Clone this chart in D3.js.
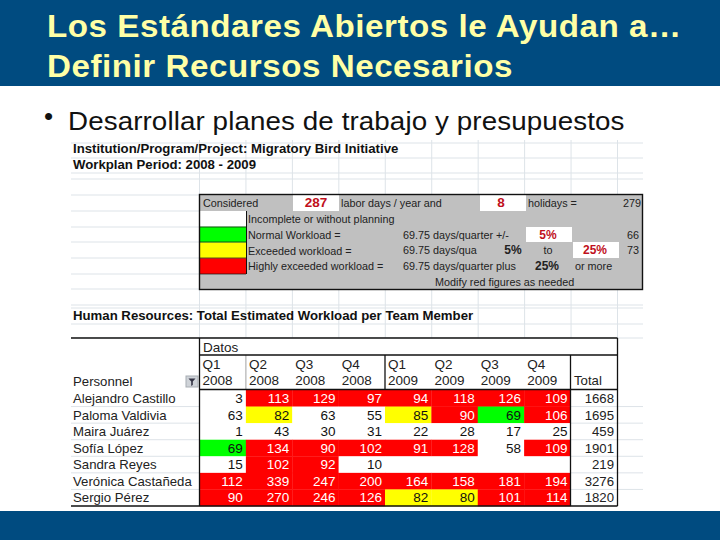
<!DOCTYPE html>
<html><head><meta charset="utf-8">
<script src="https://cdn.jsdelivr.net/npm/d3@7"></script>
<style>html,body{margin:0;padding:0;background:#fff}svg{display:block}text{font-family:"Liberation Sans",Arial,sans-serif}</style>
</head><body><div id="c"></div>
<script>
const titleLines=["Los Estándares Abiertos le Ayudan a…","Definir Recursos Necesarios"];
const bullet="Desarrollar planes de trabajo y presupuestos";
const people=["Alejandro Castillo","Paloma Valdivia","Maira Juárez","Sofía López","Sandra Reyes","Verónica Castañeda","Sergio Pérez"];
const quarters=["Q1","Q2","Q3","Q4","Q1","Q2","Q3","Q4"];
const years=["2008","2008","2008","2008","2009","2009","2009","2009"];
const alejandro=[3,113,129,97,94,118,126,109];
const paloma=[63,82,63,55,85,90,69,106];
const maira=[1,43,30,31,22,28,17,25];
const sofia=[69,134,90,102,91,128,58,109];
const sandra=[15,102,92,10,null,null,null,null];
const veronica=[112,339,247,200,164,158,181,194];
const sergio=[90,270,246,126,82,80,101,114];
const totals=[1668,1695,459,1901,219,3276,1820];
const thresholds=[66,73,87];
const levelColors=["#ffffff","#00ff00","#ffff00","#ff0000"];
const legendLabels=["Incomplete or without planning","Normal Workload =","Exceeded workload =","Highly exceeded workload ="];
const matrix=[alejandro,paloma,maira,sofia,sandra,veronica,sergio];

const W=720,H=540;
const svg=d3.select("#c").append("svg").attr("width",W).attr("height",H);
const navy="#004b80",cream="#ffffa6";
svg.append("rect").attr("width",W).attr("height",86).attr("fill",navy);
svg.append("rect").attr("y",511).attr("width",W).attr("height",29).attr("fill",navy);
svg.selectAll("text.t").data(titleLines).join("text").attr("class","t")
  .attr("transform",(d,i)=>`translate(47,${37+i*40}) scale(1.07,1)`).attr("fill",cream)
  .attr("font-size",31).attr("font-weight","bold").attr("letter-spacing",0.5).text(d=>d);
svg.append("text").attr("x",44).attr("y",125).attr("font-size",26).attr("fill","#111").text("•");
svg.append("text").attr("transform","translate(68,130) scale(1.067,1)").attr("font-size",26).attr("fill","#111").attr("letter-spacing",0.1).text(bullet);

// sheet grid
const g=svg.append("g");
const colX=d3.scaleBand().domain(d3.range(9)).range([199.5,617.5]);
const vx=d3.range(10).map(i=>i<9?colX(i):617.5);
const hy=[143,158,173,179,195,211,227,242,258,274,289,305,308,324,338];
g.selectAll("line.v").data(vx).join("line").attr("class","v")
  .attr("x1",d=>d).attr("x2",d=>d).attr("y1",140).attr("y2",338).attr("stroke","#dde3e8");
g.selectAll("line.h").data(hy).join("line").attr("class","h")
  .attr("x1",71).attr("x2",643).attr("y1",d=>d).attr("y2",d=>d).attr("stroke","#dde3e8");
const head=(s,y,size=13.2)=>g.append("text").attr("x",73).attr("y",y).attr("font-size",size).attr("font-weight","bold").attr("fill","#111").text(s);
head("Institution/Program/Project: Migratory Bird Initiative",153);
head("Workplan Period: 2008 - 2009",169);
head("Human Resources: Total Estimated Workload per Team Member",320);

// settings box
const box=g.append("g");
box.append("rect").attr("x",199.5).attr("y",194.5).attr("width",443).attr("height",95).attr("fill","#c0c0c0");
const legY=d3.scaleBand().domain(d3.range(4)).range([211,274]);
box.selectAll("rect.sw").data(levelColors).join("rect").attr("class","sw")
  .attr("x",200).attr("width",46.5).attr("y",(d,i)=>legY(i)).attr("height",legY.bandwidth()).attr("fill",d=>d);
box.append("line").attr("x1",246.5).attr("x2",246.5).attr("y1",211).attr("y2",274).attr("stroke","#111");
[[200,246,227],[200,246,242],[200,246,258],[200,246,274]].forEach(a=>box.append("line").attr("x1",a[0]).attr("x2",a[1]).attr("y1",a[2]).attr("y2",a[2]).attr("stroke","#111").attr("stroke-width",.7));
box.selectAll("text.lg").data(legendLabels).join("text").attr("class","lg")
  .attr("x",248).attr("y",(d,i)=>legY(i)+12).attr("font-size",10.8).attr("fill","#222").text(d=>d);
const inputs=[[293,339,195,211],[480,526,195,211],[526,572,227,242],[573,619,242,258]];
box.selectAll("rect.in").data(inputs).join("rect").attr("class","in")
  .attr("x",d=>d[0]).attr("width",d=>d[1]-d[0]).attr("y",d=>d[2]).attr("height",d=>d[3]-d[2]).attr("fill","#fff");
const txt=(x,y,s,o={})=>box.append("text").attr("x",x).attr("y",y).attr("font-size",o.size||10.8).attr("font-weight",o.bold?"bold":null).attr("fill",o.fill||"#222").attr("text-anchor",o.anchor||"start").text(s);
txt(203,207,"Considered");
txt(316,207,"287",{bold:1,fill:"#c0101c",anchor:"middle",size:13.5});
txt(341,207,"labor days / year and");
txt(501,207,"8",{bold:1,fill:"#c0101c",anchor:"middle",size:13.5});
txt(528,207,"holidays =");
txt(641,207,"279",{anchor:"end"});
txt(403,239,"69.75 days/quarter +/-");
txt(548,239,"5%",{bold:1,fill:"#c0101c",anchor:"middle",size:12});
txt(639,239,"66",{anchor:"end"});
txt(403,254,"69.75 days/qua");
txt(513,254,"5%",{bold:1,anchor:"middle",size:12});
txt(548,254,"to",{anchor:"middle"});
txt(595,254,"25%",{bold:1,fill:"#c0101c",anchor:"middle",size:12});
txt(639,254,"73",{anchor:"end"});
txt(403,270,"69.75 days/quarter plus");
txt(547,270,"25%",{bold:1,anchor:"middle",size:12});
txt(575,270,"or more");
txt(435,286,"Modify red figures as needed");
box.append("rect").attr("x",199.5).attr("y",194.5).attr("width",443).attr("height",95).attr("fill","none").attr("stroke","#111").attr("stroke-width",1.4);

// workload table
const tb=svg.append("g");
const x=d3.scaleBand().domain(d3.range(8)).range([199.5,570.5]);
const y=d3.scaleBand().domain(people).range([390,506]);
const color=d3.scaleThreshold().domain(thresholds).range(levelColors);
tb.append("rect").attr("x",71).attr("y",338).attr("width",546.5).attr("height",168).attr("fill","#fff");
tb.selectAll("line.r").data(people.slice(1)).join("line").attr("class","r")
  .attr("x1",71).attr("x2",199).attr("y1",d=>y(d)).attr("y2",d=>y(d)).attr("stroke","#dde3e8");
tb.selectAll("line.r2").data(people.slice(1)).join("line").attr("class","r2")
  .attr("x1",570).attr("x2",643).attr("y1",d=>y(d)).attr("y2",d=>y(d)).attr("stroke","#dde3e8");
const rows=tb.selectAll("g.row").data(matrix).join("g").attr("class","row")
  .attr("transform",(d,i)=>`translate(0,${y(people[i])})`);
const cells=rows.selectAll("g").data(d=>d).join("g").attr("transform",(d,i)=>`translate(${x(i)},0)`);
cells.append("rect").attr("width",x.bandwidth()+.3).attr("height",y.bandwidth()+.3)
  .attr("fill",d=>d===null?"#fff":color(d));
cells.append("text").attr("x",x.bandwidth()-3).attr("y",13).attr("text-anchor","end").attr("font-size",13.5)
  .attr("fill",d=>d!==null&&d>=thresholds[2]?"#fff":"#111").text(d=>d===null?"":d);
tb.selectAll("text.p").data(people).join("text").attr("class","p")
  .attr("x",73).attr("y",d=>y(d)+13).attr("font-size",13.2).attr("fill","#222").text(d=>d);
tb.selectAll("text.tot").data(totals).join("text").attr("class","tot")
  .attr("x",614).attr("y",(d,i)=>y(people[i])+13).attr("text-anchor","end").attr("font-size",13.2).attr("fill","#222").text(d=>d);
tb.selectAll("text.q").data(quarters).join("text").attr("class","q")
  .attr("x",(d,i)=>x(i)+3).attr("y",369).attr("font-size",13.5).attr("fill","#222").text(d=>d);
tb.selectAll("text.yr").data(years).join("text").attr("class","yr")
  .attr("x",(d,i)=>x(i)+3).attr("y",385).attr("font-size",13.5).attr("fill","#222").text(d=>d);
tb.append("text").attr("x",203).attr("y",352).attr("font-size",13.5).attr("fill","#222").text("Datos");
tb.append("text").attr("x",73).attr("y",386).attr("font-size",13.2).attr("fill","#222").text("Personnel");
tb.append("text").attr("x",574).attr("y",385).attr("font-size",13.2).attr("fill","#222").text("Total");
tb.append("rect").attr("x",186).attr("y",376).attr("width",12).attr("height",11).attr("fill","#cfd3d8").attr("stroke","#a8adb3");
tb.append("path").attr("d","M188.5 378.5h7l-2.7 3v3.5l-1.6 1v-4.5z").attr("fill","#334");
const blk=(a,b,c,d,w=1.3)=>tb.append("line").attr("x1",a).attr("y1",b).attr("x2",c).attr("y2",d).attr("stroke","#111").attr("stroke-width",w);
blk(71,338,617.5,338);blk(199.5,338,199.5,506);blk(617.5,338,617.5,506);
blk(199.5,355,617.5,355);blk(199.5,389.5,617.5,389.5);blk(71,506,617.5,506);
blk(385,355,385,389.5);blk(570.5,355,570.5,506);blk(245.9,355,245.9,389.5,.4);
</script></body></html>
